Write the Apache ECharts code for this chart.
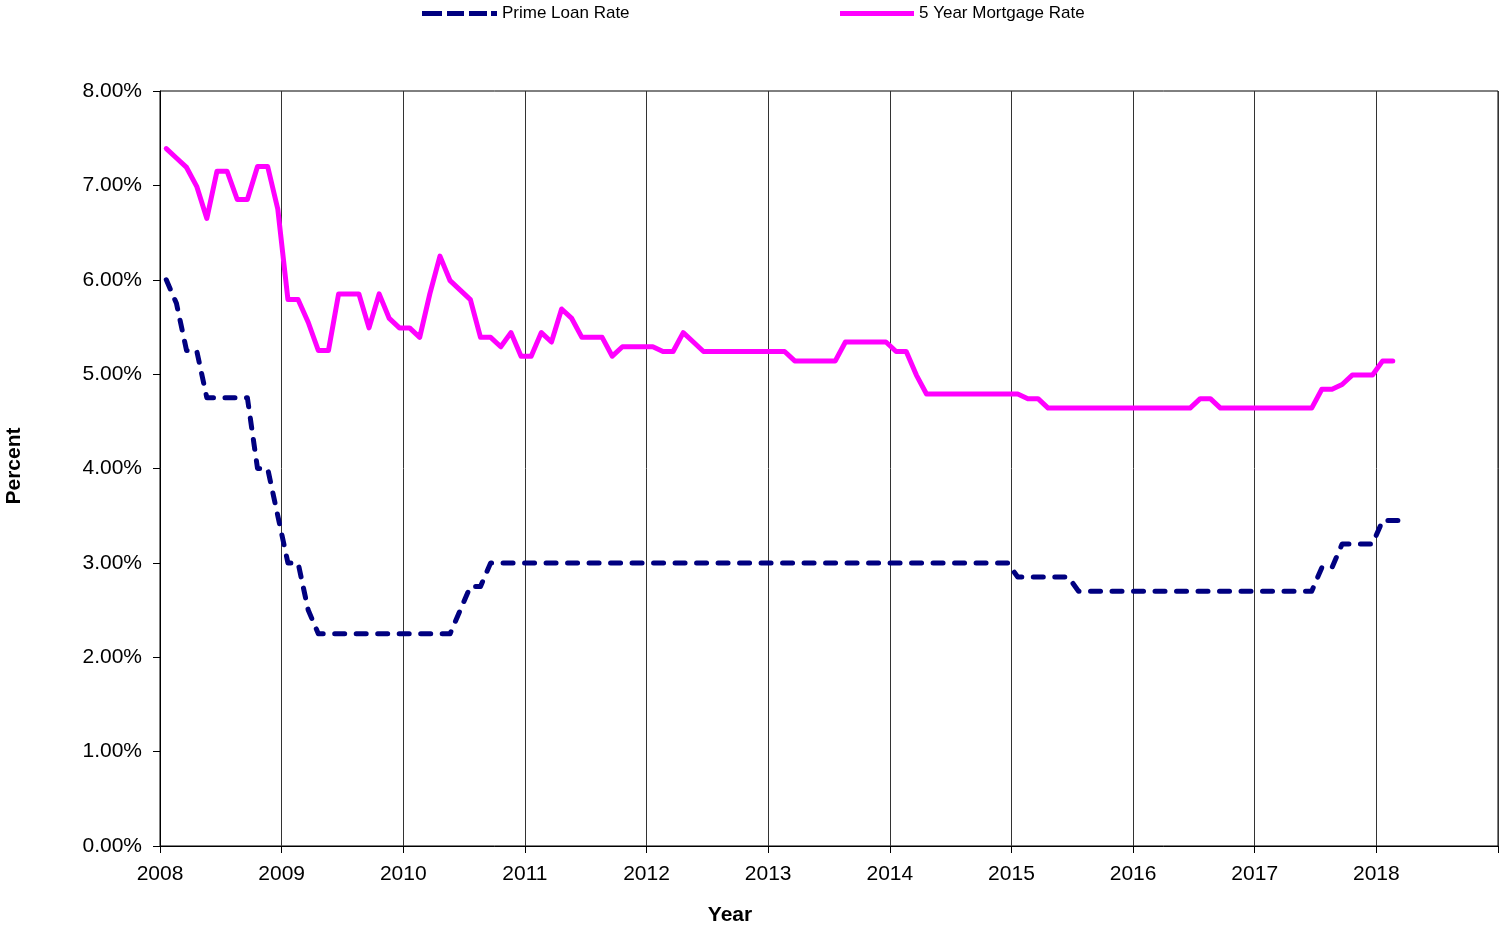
<!DOCTYPE html>
<html>
<head>
<meta charset="utf-8">
<script src="https://cdn.jsdelivr.net/npm/echarts@6/dist/echarts.min.js"></script>
<style>
html,body{margin:0;padding:0;background:#fff;overflow:hidden;}
#chart{width:1501px;height:930px;}
</style>
</head>
<body>
<div id="chart"></div>
<script>
// Monthly series, starting January 2008
const startYear = 2008;
const yearTicks = [2008, 2009, 2010, 2011, 2012, 2013, 2014, 2015, 2016, 2017, 2018];
const seriesNames = ['Prime Loan Rate', '5 Year Mortgage Rate'];

const primeRate = [
  6.00, 5.75, 5.25, 5.25, 4.75, 4.75, 4.75, 4.75, 4.75, 4.00, 4.00, 3.50, // 2008
  3.00, 3.00, 2.50, 2.25, 2.25, 2.25, 2.25, 2.25, 2.25, 2.25, 2.25, 2.25, // 2009
  2.25, 2.25, 2.25, 2.25, 2.25, 2.50, 2.75, 2.75, 3.00, 3.00, 3.00, 3.00, // 2010
  3.00, 3.00, 3.00, 3.00, 3.00, 3.00, 3.00, 3.00, 3.00, 3.00, 3.00, 3.00, // 2011
  3.00, 3.00, 3.00, 3.00, 3.00, 3.00, 3.00, 3.00, 3.00, 3.00, 3.00, 3.00, // 2012
  3.00, 3.00, 3.00, 3.00, 3.00, 3.00, 3.00, 3.00, 3.00, 3.00, 3.00, 3.00, // 2013
  3.00, 3.00, 3.00, 3.00, 3.00, 3.00, 3.00, 3.00, 3.00, 3.00, 3.00, 3.00, // 2014
  2.85, 2.85, 2.85, 2.85, 2.85, 2.85, 2.70, 2.70, 2.70, 2.70, 2.70, 2.70, // 2015
  2.70, 2.70, 2.70, 2.70, 2.70, 2.70, 2.70, 2.70, 2.70, 2.70, 2.70, 2.70, // 2016
  2.70, 2.70, 2.70, 2.70, 2.70, 2.70, 2.95, 2.95, 3.20, 3.20, 3.20, 3.20, // 2017
  3.45, 3.45, 3.45                                                         // 2018
];

const mortgageRate = [
  7.39, 7.29, 7.19, 6.99, 6.65, 7.15, 7.15, 6.85, 6.85, 7.20, 7.20, 6.75, // 2008
  5.79, 5.79, 5.55, 5.25, 5.25, 5.85, 5.85, 5.85, 5.49, 5.85, 5.59, 5.49, // 2009
  5.49, 5.39, 5.85, 6.25, 5.99, 5.89, 5.79, 5.39, 5.39, 5.29, 5.44, 5.19, // 2010
  5.19, 5.44, 5.34, 5.69, 5.59, 5.39, 5.39, 5.39, 5.19, 5.29, 5.29, 5.29, // 2011
  5.29, 5.24, 5.24, 5.44, 5.34, 5.24, 5.24, 5.24, 5.24, 5.24, 5.24, 5.24, // 2012
  5.24, 5.24, 5.14, 5.14, 5.14, 5.14, 5.14, 5.34, 5.34, 5.34, 5.34, 5.34, // 2013
  5.24, 5.24, 4.99, 4.79, 4.79, 4.79, 4.79, 4.79, 4.79, 4.79, 4.79, 4.79, // 2014
  4.79, 4.74, 4.74, 4.64, 4.64, 4.64, 4.64, 4.64, 4.64, 4.64, 4.64, 4.64, // 2015
  4.64, 4.64, 4.64, 4.64, 4.64, 4.64, 4.74, 4.74, 4.64, 4.64, 4.64, 4.64, // 2016
  4.64, 4.64, 4.64, 4.64, 4.64, 4.64, 4.84, 4.84, 4.89, 4.99, 4.99, 4.99, // 2017
  5.14, 5.14                                                               // 2018
];

// month index -> fractional year (observations are around the 20th of each month)
function toPoints(values) {
  return values.map(function (v, i) { return [startYear + (i + 0.62) / 12, v]; });
}

const FONT = '"Liberation Sans", Arial, sans-serif';
const chart = echarts.init(document.getElementById('chart'), null, { renderer: 'canvas', width: 1501, height: 930 });

const legendText = { fontSize: 17, color: '#000', fontFamily: FONT };

chart.setOption({
  animation: false,
  backgroundColor: '#ffffff',
  textStyle: { fontFamily: FONT, color: '#000' },
  grid: {
    left: 160, top: 91, width: 1341, height: 755,
    show: true, borderColor: '#000', borderWidth: 1, backgroundColor: 'transparent'
  },
  legend: [
    {
      left: 422, top: 5, padding: 0,
      data: [{ name: seriesNames[0], icon: 'path://M0,0H20V5H0Z M25,0H42V5H25Z M47,0H65V5H47Z M69,0H75V5H69Z' }],
      itemWidth: 75, itemHeight: 5, itemGap: 0,
      textStyle: legendText
    },
    {
      left: 840, top: 5, padding: 0,
      data: [{ name: seriesNames[1], icon: 'rect' }],
      itemWidth: 74, itemHeight: 5, itemGap: 0,
      textStyle: legendText
    }
  ],
  xAxis: {
    type: 'value', min: 2008, max: 2019, interval: 1,
    axisLine: { show: true, lineStyle: { color: '#000', width: 1 } },
    axisTick: { show: true, length: 7, inside: false, lineStyle: { color: '#000' } },
    axisLabel: {
      fontSize: 21, color: '#000', fontFamily: FONT, margin: 18,
      formatter: function (v) { return yearTicks.indexOf(Math.round(v)) >= 0 ? String(Math.round(v)) : ''; }
    },
    splitLine: { show: true, lineStyle: { color: '#333', width: 1 } }
  },
  yAxis: {
    type: 'value', min: 0, max: 8, interval: 1,
    axisLine: { show: true, lineStyle: { color: '#000', width: 1 } },
    axisTick: { show: true, length: 7, inside: false, lineStyle: { color: '#000' } },
    axisLabel: {
      fontSize: 21, color: '#000', fontFamily: FONT, margin: 18,
      formatter: function (v) { return v.toFixed(2) + '%'; }
    },
    splitLine: { show: false }
  },
  graphic: [
    {
      type: 'text', x: 14, y: 466, rotation: Math.PI / 2,
      style: { text: 'Percent', font: 'bold 21px ' + FONT, fill: '#000', textAlign: 'center', textVerticalAlign: 'middle' }
    },
    {
      type: 'text', x: 730, y: 915,
      style: { text: 'Year', font: 'bold 21px ' + FONT, fill: '#000', textAlign: 'center', textVerticalAlign: 'middle' }
    }
  ],
  series: [
    {
      name: seriesNames[0], type: 'line', data: toPoints(primeRate),
      showSymbol: false, symbol: 'none',
      lineStyle: { color: '#000080', width: 5, type: [10, 11.5], cap: 'round', join: 'round' },
      itemStyle: { color: '#000080' }
    },
    {
      name: seriesNames[1], type: 'line', data: toPoints(mortgageRate),
      showSymbol: false, symbol: 'none',
      lineStyle: { color: '#FF00FF', width: 5, cap: 'round', join: 'round' },
      itemStyle: { color: '#FF00FF' }
    }
  ]
});
</script>
</body>
</html>
